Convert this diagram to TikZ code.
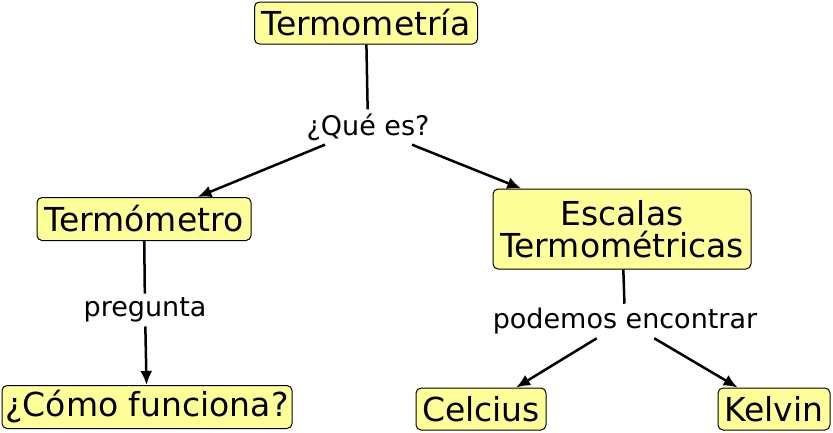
\documentclass[tikz,border=0pt]{standalone}
\usepackage{fontspec}
\setmainfont{DejaVu Sans}
\usetikzlibrary{arrows.meta}
\begin{document}
\begin{tikzpicture}[x=1pt,y=-1pt,
  concept/.style={draw=black,line width=1pt,fill={rgb,255:red,255;green,255;blue,153},rounded corners=5pt,inner sep=2pt,font=\fontsize{33}{38}\selectfont,align=center},
  lbl/.style={inner sep=4pt,font=\fontsize{27}{32}\selectfont},
  link/.style={line width=2.5pt},
  arr/.style={link,-{Latex[length=14pt,width=12pt]}}]
\useasboundingbox (0,0) rectangle (833,432);
\node[concept,minimum width=223pt,minimum height=42pt] (t) at (366,23) {Termometría};
\node[lbl] (q) at (368,127) {¿Qué es?};
\node[concept,minimum width=214pt,minimum height=43pt] (tm) at (144,219) {Termómetro};
\node[concept,minimum width=258pt,minimum height=80pt] (e) at (622,229) {Escalas\\[-6pt]Termométricas};
\node[lbl] (p) at (145,310) {pregunta};
\node[lbl] (pe) at (625,321) {podemos encontrar};
\node[concept,minimum width=290pt,minimum height=43pt] (c) at (147,407) {¿Cómo funciona?};
\node[concept,minimum width=130pt,minimum height=42pt] (ce) at (481,409) {Celcius};
\node[concept,minimum width=112pt,minimum height=42pt] (k) at (774,409) {Kelvin};
\draw[link] (t) -- (q);
\draw[arr] (q) -- (tm);
\draw[arr] (q) -- (e);
\draw[link] (tm) -- (p);
\draw[arr] (p) -- (c);
\draw[link] (e) -- (pe);
\draw[arr] (pe) -- (ce);
\draw[arr] (pe) -- (k);
\end{tikzpicture}
\end{document}
